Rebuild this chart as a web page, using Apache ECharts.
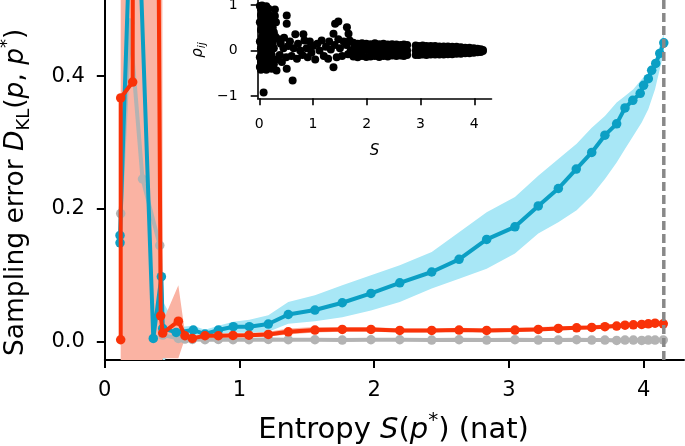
<!DOCTYPE html>
<html><head><meta charset="utf-8">
<script src="https://cdn.jsdelivr.net/npm/echarts@6/dist/echarts.min.js"></script>
<style>html,body{margin:0;padding:0;background:#fff}#c{width:685px;height:446px}</style>
</head><body><div id="c"></div>
<script>
// ---------- data ----------
const xTicks = [0, 1, 2, 3, 4];
const yTicks = [0.0, 0.2, 0.4];
const insetXTicks = [0, 1, 2, 3, 4];
const insetYTicks = [-1, 0, 1];
const entropyMax = 4.15;

const redX = [0.118,0.118,0.207,0.24,0.415,0.43,0.546,0.595,0.65,0.744,0.843,0.952,1.07,1.214,1.362,1.56,1.763,1.976,2.19,2.427,2.63,2.835,3.045,3.218,3.367,3.503,3.615,3.713,3.80,3.862,3.924,3.986,4.035,4.085,4.146];
const redY = [0.003,0.367,0.391,6.0,0.039,0.013,0.031,0.009,0.005,0.009,0.009,0.0095,0.0098,0.011,0.015,0.0176,0.0186,0.0186,0.017,0.017,0.0176,0.017,0.0176,0.0186,0.020,0.021,0.0215,0.0226,0.0236,0.025,0.0255,0.026,0.027,0.028,0.027];

const blueX = [0.113,0.113,0.22,0.36,0.42,0.43,0.53,0.657,0.744,0.843,0.954,1.073,1.214,1.362,1.56,1.763,1.976,2.19,2.427,2.63,2.835,3.045,3.218,3.367,3.50,3.615,3.713,3.80,3.862,3.92,3.975,4.00,4.035,4.06,4.09,4.12,4.15];
const blueY = [0.149,0.16,0.82,0.005,0.098,0.02,0.014,0.0176,0.0116,0.0176,0.0226,0.0226,0.0266,0.041,0.0477,0.0587,0.0727,0.0887,0.105,0.124,0.154,0.173,0.2045,0.2307,0.26,0.285,0.311,0.328,0.352,0.3635,0.374,0.386,0.396,0.4086,0.419,0.434,0.45];

const grayX = [0.118,0.185,0.28,0.408,0.43,0.546,0.595,0.65,0.744,0.843,0.952,1.07,1.214,1.362,1.56,1.763,1.976,2.19,2.427,2.63,2.835,3.045,3.218,3.367,3.503,3.615,3.713,3.80,3.862,3.924,3.986,4.035,4.085,4.146];
const grayY = [0.193,0.48,0.245,0.145,0.01,0.005,0.004,0.0035,0.003,0.0035,0.003,0.003,0.0035,0.003,0.003,0.0025,0.003,0.003,0.0025,0.003,0.0025,0.003,0.0025,0.0025,0.003,0.0025,0.0025,0.002,0.0025,0.0025,0.002,0.0025,0.0025,0.0026];

const redBandX = [0.118,0.207,0.24,0.415,0.43,0.546,0.595,0.65,0.744,0.843,0.952,1.07,1.214,1.362,1.56,1.763,1.976,2.19,2.427,2.63,2.835,3.045,3.218,3.367,3.503,3.615,3.713,3.80,3.862,3.924,3.986,4.035,4.085,4.146];
const redBandLo = [-0.05,-0.05,-0.05,-0.05,-0.025,-0.025,0.005,0.002,0.006,0.006,0.007,0.007,0.008,0.011,0.014,0.015,0.015,0.014,0.014,0.015,0.014,0.015,0.016,0.017,0.018,0.019,0.02,0.021,0.022,0.023,0.023,0.024,0.025,0.024];
const redBandHi = [3,3,6,3,0.03,0.085,0.014,0.009,0.012,0.012,0.013,0.013,0.015,0.02,0.022,0.022,0.022,0.02,0.02,0.021,0.02,0.021,0.022,0.023,0.024,0.025,0.026,0.027,0.028,0.029,0.029,0.03,0.031,0.03];

const blueBandX = [0.36,0.40,0.434,0.50,0.55,0.657,0.744,0.843,0.954,1.073,1.214,1.362,1.56,1.763,1.976,2.19,2.427,2.63,2.835,3.045,3.218,3.367,3.503,3.615,3.713,3.80,3.862,3.924,3.986,4.035,4.085,4.15];
const blueBandLo = [0.0,-0.01,-0.03,-0.015,0.005,0.012,0.006,0.012,0.014,0.013,0.015,0.027,0.031,0.037,0.047,0.06,0.08,0.095,0.11,0.133,0.163,0.18,0.198,0.22,0.245,0.27,0.29,0.31,0.33,0.35,0.38,0.436];
const blueBandHi = [0.01,0.03,0.06,0.035,0.022,0.024,0.018,0.024,0.03,0.033,0.04,0.06,0.07,0.085,0.1,0.115,0.135,0.165,0.195,0.218,0.25,0.275,0.298,0.322,0.34,0.36,0.37,0.38,0.395,0.405,0.425,0.464];

const grayBandX = [0.118,0.185,0.28,0.408,0.43,0.6,1.0,2.0,3.0,4.146];
const grayBandLo = [0.17,0.43,0.21,0.125,0.0,0.002,0.002,0.002,0.002,0.001];
const grayBandHi = [0.215,0.52,0.28,0.165,0.02,0.006,0.005,0.005,0.005,0.005];

// inset: pairwise correlation rho_ij against entropy S
const insetPoints = [
[0.01,0.98],[0.01,0.62],[0.01,0.2],[0.01,-0.15],[0.01,-0.36],
[0.03,0.92],[0.03,0.78],[0.03,0.45],[0.03,0.05],[0.03,-0.25],[0.03,-0.42],
[0.05,0.99],[0.05,0.7],[0.05,0.55],[0.05,0.3],[0.05,-0.05],[0.05,-0.3],
[0.07,0.86],[0.07,0.4],[0.07,0.12],[0.07,-0.2],[0.07,-0.4],
[0.08,-0.92],
[0.09,0.95],[0.09,0.66],[0.09,0.25],[0.09,-0.1],[0.09,-0.35],
[0.11,0.9],[0.11,0.74],[0.11,0.5],[0.11,0.18],[0.11,0.0],[0.11,-0.28],
[0.13,0.97],[0.13,0.6],[0.13,0.35],[0.13,0.08],[0.13,-0.18],[0.13,-0.42],
[0.15,0.84],[0.15,0.48],[0.15,0.22],[0.15,-0.08],[0.15,-0.32],
[0.17,0.92],[0.17,0.66],[0.17,0.3],[0.17,0.02],[0.17,-0.24],
[0.19,0.78],[0.19,0.52],[0.19,0.12],[0.19,-0.15],[0.19,-0.38],
[0.21,0.7],[0.21,0.4],[0.21,0.2],[0.21,-0.05],[0.21,-0.3],
[0.23,0.62],[0.23,0.28],[0.23,-0.1],[0.23,-0.4],
[0.25,0.5],[0.25,0.15],[0.25,-0.2],
[0.27,0.4],[0.27,0.05],[0.27,-0.3],
[0.29,0.9],[0.29,0.76],[0.31,0.62],[0.32,-0.44],[0.3,0.3],[0.33,-0.2],[0.36,0.25],[0.38,-0.1],[0.4,0.15],[0.42,-0.25],
[0.45,0.05],[0.46,0.28],[0.5,-0.15],[0.51,0.77],[0.51,0.59],[0.51,-0.4],[0.54,0.1],[0.57,0.2],[0.6,-0.12],[0.62,-0.66],
[0.64,0.05],[0.67,0.36],[0.7,-0.18],[0.72,0.15],[0.76,0.0],[0.8,-0.1],[0.82,0.36],[0.84,0.22],[0.88,0.05],[0.9,-0.15],
[0.94,0.2],[0.97,-0.05],[1.0,0.1],[1.04,-0.2],[1.08,0.15],[1.12,0.0],[1.16,0.22],[1.2,-0.12],[1.24,0.08],[1.28,-0.18],
[1.3,0.2],[1.33,0.02],[1.38,0.37],[1.38,-0.37],[1.4,0.12],[1.41,0.59],[1.44,-0.15],[1.47,0.64],[1.47,0.25],[1.5,0.05],
[1.54,-0.12],[1.57,0.2],[1.63,0.51],[1.66,0.37],[1.62,0.12],[1.65,-0.08],[1.68,0.22],[1.7,0.0],
[1.75,0.17],[1.75,0.03],[1.75,-0.13],[1.83,0.15],[1.83,0.0],[1.83,-0.15],[1.91,0.16],[1.91,0.02],[1.91,-0.12],
[1.99,0.15],[1.99,0.01],[1.99,-0.14],[2.07,0.14],[2.07,-0.01],[2.07,-0.13],[2.15,0.16],[2.15,0.02],[2.15,-0.12],
[2.23,0.14],[2.23,0.0],[2.23,-0.14],[2.31,0.15],[2.31,0.01],[2.31,-0.12],[2.39,0.13],[2.39,-0.01],[2.39,-0.13],
[2.47,0.14],[2.47,0.01],[2.47,-0.11],[2.55,0.13],[2.55,0.0],[2.55,-0.12],[2.63,0.12],[2.63,0.01],[2.63,-0.11],
[2.69,0.13],[2.69,-0.01],[2.69,-0.12],[2.75,0.12],[2.75,0.0],[2.75,-0.1],
[2.91,0.11],[2.91,0.0],[2.91,-0.1],[2.97,0.1],[2.97,0.01],[2.97,-0.1],[3.04,0.11],[3.04,0.0],[3.04,-0.09],
[3.11,0.1],[3.11,0.0],[3.11,-0.1],[3.19,0.1],[3.19,0.01],[3.19,-0.09],[3.27,0.1],[3.27,0.0],[3.27,-0.09],
[3.35,0.09],[3.35,0.0],[3.35,-0.09],[3.43,0.09],[3.43,0.01],[3.43,-0.09],[3.51,0.09],[3.51,0.0],[3.51,-0.08],
[3.59,0.08],[3.59,0.0],[3.59,-0.08],[3.67,0.08],[3.67,0.0],[3.67,-0.07],[3.75,0.07],[3.75,0.01],[3.75,-0.07],
[3.83,0.06],[3.83,0.0],[3.83,-0.06],[3.91,0.06],[3.91,0.0],[3.91,-0.06],[3.99,0.05],[3.99,0.0],[3.99,-0.05],
[4.06,0.04],[4.06,0.0],[4.06,-0.04],[4.12,0.03],[4.12,0.0],[4.12,-0.03],[4.16,0.01],[4.16,-0.01]
];

// ---------- styles ----------
const FONT = 'DejaVu Sans';
const C_BLUE = '#0b9fc4', C_BLUE_BAND = '#a8e7f6';
const C_RED = '#f93208', C_RED_BAND = '#fab3a3';
const C_GRAY = '#b3b3b3', C_GRAY_BAND = '#d6d6d6';

const MAIN = {left: 104.8, top: 0, width: 579.2, height: 360};
const INSET = {left: 257.7, top: 0, width: 233.8, height: 98.3};
const XMIN = 0, XMAX = 4.3, YMIN = -0.0275, YMAX = 0.5145;

function pairs(xs, ys) { return xs.map((x, i) => [x, ys[i]]); }

function band(xs, lo, hi, color, z) {
  const data = xs.map((x, i) => [x, lo[i], hi[i]]);
  return {
    type: 'custom', xAxisIndex: 0, yAxisIndex: 0, clip: true, z: z, silent: true,
    data: data, encode: {x: 0, y: [1, 2]},
    renderItem: function (params, api) {
      if (params.dataIndex !== 0) return null;
      const pts = [];
      for (let i = 0; i < data.length; i++) pts.push(api.coord([data[i][0], data[i][2]]));
      for (let i = data.length - 1; i >= 0; i--) pts.push(api.coord([data[i][0], data[i][1]]));
      const cs = params.coordSys;
      return {type: 'group', children: [{type: 'polygon', shape: {points: pts}, style: {fill: color}}],
        clipPath: {type: 'rect', shape: {x: cs.x, y: cs.y, width: cs.width, height: cs.height}}};
    }
  };
}

function lineSeries(xs, ys, color, z) {
  return {type: 'line', xAxisIndex: 0, yAxisIndex: 0, data: pairs(xs, ys), z: z, clip: true,
    symbol: 'circle', symbolSize: 9.5, showSymbol: true, animation: false,
    lineStyle: {color: color, width: 4}, itemStyle: {color: color, borderWidth: 0}};
}

const minus = v => (v < 0 ? '\u2212' + Math.abs(v) : String(v));

function labelRich(size) {
  const sub = Math.round(size * 0.68);
  return {
    n: {fontFamily: FONT, fontSize: size, color: '#000', lineHeight: size * 1.3},
    i: {fontFamily: FONT, fontSize: size, fontStyle: 'italic', color: '#000', lineHeight: size * 1.3},
    sup: {fontFamily: FONT, fontSize: sub, color: '#000', lineHeight: sub, verticalAlign: 'top'},
    sub: {fontFamily: FONT, fontSize: sub, color: '#000', lineHeight: sub, verticalAlign: 'bottom'}
  };
}

const option = {
  animation: false,
  backgroundColor: '#fff',
  grid: [
    Object.assign({containLabel: false, outerBoundsMode: 'none'}, MAIN),
    Object.assign({containLabel: false, outerBoundsMode: 'none'}, INSET)
  ],
  xAxis: [
    {type: 'value', gridIndex: 0, min: XMIN, max: XMAX,
      axisLine: {show: true, onZero: false, lineStyle: {color: '#000', width: 2}},
      axisTick: {show: true, length: 8, lineStyle: {color: '#000', width: 2}, customValues: xTicks},
      axisLabel: {customValues: xTicks, fontFamily: FONT, fontSize: 21, color: '#000', margin: 20, formatter: v => String(v)},
      splitLine: {show: false}},
    {type: 'value', gridIndex: 1, min: -0.03, max: 4.32,
      axisLine: {show: true, onZero: false, lineStyle: {color: '#000', width: 1.6}},
      axisTick: {show: true, length: 7, lineStyle: {color: '#000', width: 1.6}, customValues: insetXTicks},
      axisLabel: {customValues: insetXTicks, fontFamily: FONT, fontSize: 14, color: '#000', margin: 19, formatter: v => String(v)},
      splitLine: {show: false},
      name: 'S', nameLocation: 'middle', nameGap: 45,
      nameTextStyle: {fontFamily: FONT, fontSize: 15, fontStyle: 'italic', color: '#000'}}
  ],
  yAxis: [
    {type: 'value', gridIndex: 0, min: YMIN, max: YMAX,
      axisLine: {show: true, onZero: false, lineStyle: {color: '#000', width: 2}},
      axisTick: {show: true, length: 8, lineStyle: {color: '#000', width: 2}, customValues: yTicks},
      axisLabel: {customValues: yTicks, fontFamily: FONT, fontSize: 21, color: '#000', margin: 20, formatter: v => v.toFixed(1)},
      splitLine: {show: false}},
    {type: 'value', gridIndex: 1, min: -1.05, max: 1.11,
      axisLine: {show: true, onZero: false, lineStyle: {color: '#000', width: 1.6}},
      axisTick: {show: true, length: 7, lineStyle: {color: '#000', width: 1.6}, customValues: insetYTicks},
      axisLabel: {customValues: insetYTicks, fontFamily: FONT, fontSize: 14, color: '#000', margin: 20, formatter: minus},
      splitLine: {show: false}}
  ],
  graphic: [
    {type: 'text', x: 393.5, y: 430, z: 10,
      style: {text: '{n|Entropy }{i|S}{n|(}{i|p}{sup|*}{n|) (nat)}', align: 'center', verticalAlign: 'middle', rich: labelRich(29)}},
    {type: 'text', x: 16, y: 356, rotation: Math.PI / 2, z: 10,
      style: {text: '{n|Sampling error }{i|D}{sub|KL}{n|(}{i|p}{n|, }{i|p}{sup|*}{n|)}', align: 'left', verticalAlign: 'middle', rich: labelRich(26.5)}},
    {type: 'text', x: 198, y: 50, rotation: Math.PI / 2, z: 10,
      style: {text: '{i|\u03c1}{s|ij}', align: 'center', verticalAlign: 'middle',
        rich: {i: {fontFamily: FONT, fontSize: 15, fontStyle: 'italic', color: '#000', lineHeight: 20},
               s: {fontFamily: FONT, fontSize: 11, fontStyle: 'italic', color: '#000', lineHeight: 11, verticalAlign: 'bottom'}}}}
  ],
  series: [
    band(grayBandX, grayBandLo, grayBandHi, C_GRAY_BAND, 1),
    band(blueBandX, blueBandLo, blueBandHi, C_BLUE_BAND, 1),
    band(redBandX, redBandLo, redBandHi, C_RED_BAND, 1),
    lineSeries(grayX, grayY, C_GRAY, 2),
    lineSeries(blueX, blueY, C_BLUE, 3),
    lineSeries(redX, redY, C_RED, 4),
    {type: 'line', xAxisIndex: 0, yAxisIndex: 0, z: 5, symbol: 'none', silent: true,
      data: [[entropyMax, YMIN], [entropyMax, YMAX]],
      lineStyle: {color: '#888', width: 3.5, type: [9, 4]}},
    {type: 'scatter', xAxisIndex: 1, yAxisIndex: 1, z: 6, symbolSize: 8, data: insetPoints,
      itemStyle: {color: '#000', opacity: 1}, silent: true}
  ]
};

const chart = echarts.init(document.getElementById('c'));
chart.setOption(option);
</script>
</body></html>
